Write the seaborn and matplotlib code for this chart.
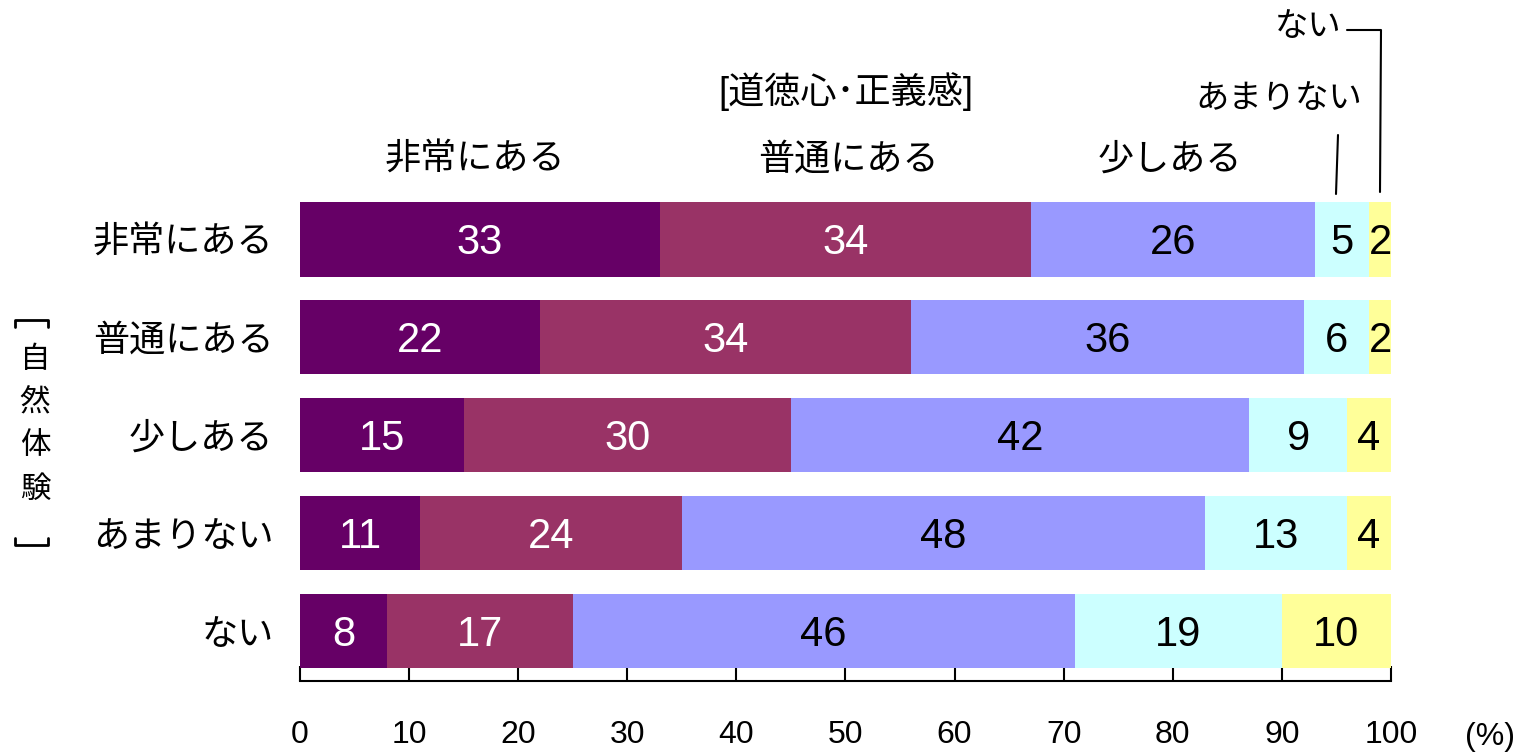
import numpy as np
import pandas as pd
import matplotlib
matplotlib.use("Agg")
import matplotlib.pyplot as plt
import seaborn as sns

# ---- data ----
rows = ["非常にある", "普通にある", "少しある", "あまりない", "ない"]
categories = ["非常にある", "普通にある", "少しある", "あまりない", "ない"]
very = [33, 22, 15, 11, 8]
normal = [34, 34, 30, 24, 17]
little = [26, 36, 42, 48, 46]
rarely = [5, 6, 9, 13, 19]
never = [2, 2, 4, 4, 10]
x_ticks = [0, 10, 20, 30, 40, 50, 60, 70, 80, 90, 100]

colors = ["#660066", "#993366", "#9999FF", "#CCFFFF", "#FFFF99"]
text_colors = ["white", "white", "black", "black", "black"]

df = pd.DataFrame({"row": rows, "very": very, "normal": normal,
                   "little": little, "rarely": rarely, "never": never})
series = ["very", "normal", "little", "rarely", "never"]
cum = df[series].cumsum(axis=1)

sns.set_style("white")
plt.rcParams["font.family"] = ["Liberation Sans", "Noto Sans CJK JP", "DejaVu Sans"]
plt.rcParams["text.color"] = "black"
plt.rcParams["xtick.color"] = "black"
plt.rcParams["ytick.color"] = "black"
plt.rcParams["axes.labelcolor"] = "black"

W, H = 1528, 753
fig = plt.figure(figsize=(W / 100, H / 100), dpi=100)
ax = fig.add_axes([0.1963, 0.0956, 0.714, 0.636])

# stacked bars: draw cumulative totals from the back to the front
for i in reversed(range(len(series))):
    sns.barplot(x=cum[series[i]], y=df["row"], color=colors[i], width=0.76,
                orient="h", saturation=1, ax=ax, linewidth=0)

# values in the segments
for i, s in enumerate(series):
    for j in range(len(rows)):
        v = df[s].iloc[j]
        mid = cum[s].iloc[j] - v / 2
        ax.text(mid, j + 0.04, str(v), ha="center", va="center", fontsize=30,
                color=text_colors[i])

ax.set_xlim(0, 100)
ax.set_ylim(4.51, -0.38)
ax.set_xticks(x_ticks)
ax.set_xticklabels([str(t) for t in x_ticks], fontsize=23)
ax.set_ylabel("")
ax.set_xlabel("")
ax.tick_params(axis="x", direction="in", length=11, width=1.5, pad=28, bottom=True)
ax.tick_params(axis="y", length=0, pad=19, labelsize=26)
for sp in ["top", "right", "left"]:
    ax.spines[sp].set_visible(False)
ax.spines["bottom"].set_linewidth(1.5)
ax.spines["bottom"].set_color("black")


def fx(px):
    return px / W


def fy(py):
    return 1 - py / H


# percent mark
fig.text(fx(1490), fy(737), "(%)", fontsize=23, ha="center", va="center")

# column headers
fig.text(fx(475), fy(160), categories[0], fontsize=26, ha="center", va="center")
fig.text(fx(848), fy(160), categories[1], fontsize=26, ha="center", va="center")
fig.text(fx(1170), fy(160), categories[2], fontsize=26, ha="center", va="center")
fig.text(fx(846), fy(92), "[道徳心･正義感]", fontsize=26, ha="center", va="center")
fig.text(fx(1362), fy(100), categories[3], fontsize=24, ha="right", va="center")
fig.text(fx(1342), fy(27), categories[4], fontsize=24, ha="right", va="center")

# leader lines
fig.add_artist(plt.Line2D([fx(1336), fx(1338)], [fy(194), fy(135)], color="black", lw=1.5))
fig.add_artist(plt.Line2D([fx(1347), fx(1381), fx(1380)], [fy(30), fy(30), fy(192)],
                          color="black", lw=1.5))

# vertical group label with bracket marks
for k, ch in enumerate("自然体験"):
    fig.text(fx(35), fy(360 + 43 * k), ch, fontsize=22, ha="center", va="center",
             family=["Noto Sans CJK JP", "DejaVu Sans"])
fig.add_artist(plt.Line2D([fx(15), fx(15), fx(48), fx(48)],
                          [fy(327), fy(320), fy(320), fy(327)], color="black", lw=2))
fig.add_artist(plt.Line2D([fx(15), fx(15), fx(48), fx(48)],
                          [fy(538), fy(545), fy(545), fy(538)], color="black", lw=2))

fig.savefig("out.png", dpi=100)
